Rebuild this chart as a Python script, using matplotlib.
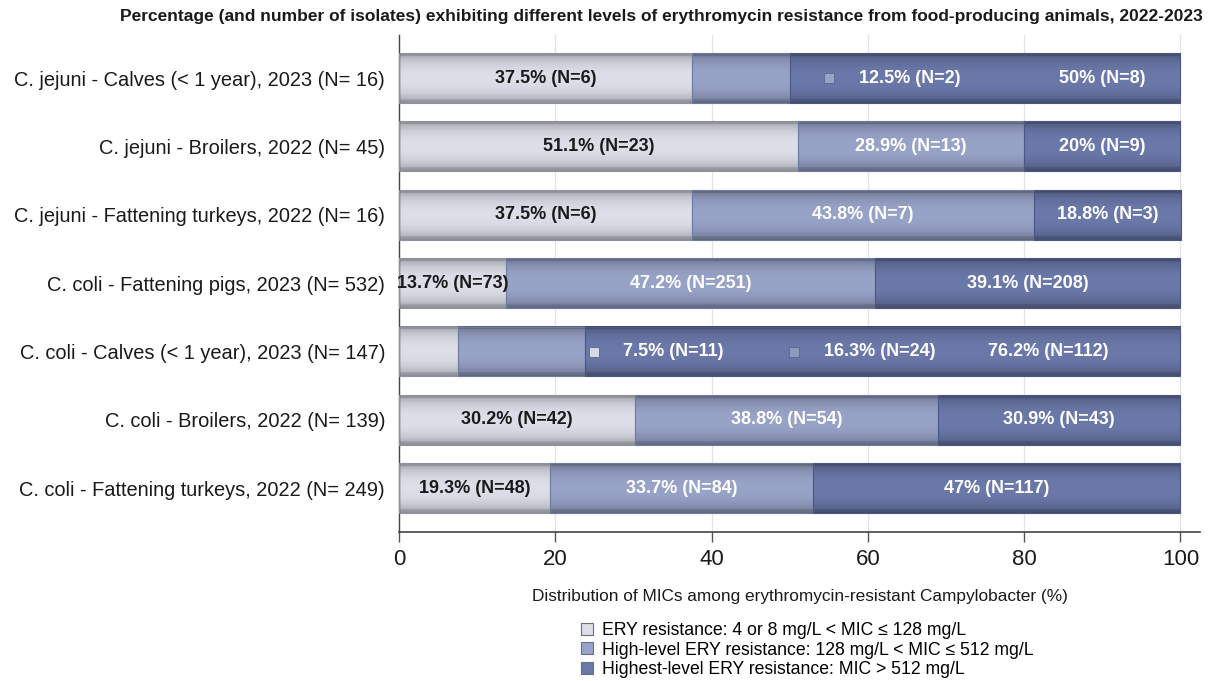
import numpy as np
import matplotlib
matplotlib.use("Agg")
import matplotlib.pyplot as plt
from matplotlib import font_manager
from matplotlib.lines import Line2D
from matplotlib.colors import to_rgb

# ---------------- data ----------------
categories = [
    "C. jejuni - Calves (< 1 year), 2023 (N= 16)",
    "C. jejuni - Broilers, 2022 (N= 45)",
    "C. jejuni - Fattening turkeys, 2022 (N= 16)",
    "C. coli - Fattening pigs, 2023 (N= 532)",
    "C. coli - Calves (< 1 year), 2023 (N= 147)",
    "C. coli - Broilers, 2022 (N= 139)",
    "C. coli - Fattening turkeys, 2022 (N= 249)",
]
ery_pct = [37.5, 51.1, 37.5, 13.7, 7.5, 30.2, 19.3]
high_pct = [12.5, 28.9, 43.8, 47.2, 16.3, 38.8, 33.7]
highest_pct = [50, 20, 18.8, 39.1, 76.2, 30.9, 47]
ery_n = [6, 23, 6, 73, 11, 42, 48]
high_n = [2, 13, 7, 251, 24, 54, 84]
highest_n = [8, 9, 3, 208, 112, 43, 117]
series_names = [
    "ERY resistance: 4 or 8 mg/L < MIC \u2264 128 mg/L",
    "High-level ERY resistance: 128 mg/L < MIC \u2264 512 mg/L",
    "Highest-level ERY resistance: MIC > 512 mg/L",
]
x_ticks = [0, 20, 40, 60, 80, 100]
title = ("Percentage (and number of isolates) exhibiting different levels of "
         "erythromycin resistance from food-producing animals, 2022-2023")
xlabel = "Distribution of MICs among erythromycin-resistant Campylobacter (%)"

# ---------------- style ----------------
colors = ["#dcdfe8", "#98a3c8", "#6b79aa"]
text_colors = ["#1a1a1a", "white", "white"]
edge_colors = ["#8f93a0", "#6f7aa0", "#4a5785"]

available = {f.name for f in font_manager.fontManager.ttflist}
base_font = "Liberation Sans" if "Liberation Sans" in available else "DejaVu Sans"
title_font = "Liberation Sans Narrow" if "Liberation Sans Narrow" in available else base_font
plt.rcParams["font.family"] = [base_font, "DejaVu Sans"]

fig = plt.figure(figsize=(12.08, 6.81), dpi=100)
ax = fig.add_axes([399 / 1208, 1 - 532 / 681, (1200 - 399) / 1208, (532 - 35) / 681])

y = np.arange(len(categories))
series = [ery_pct, high_pct, highest_pct]
counts = [ery_n, high_n, highest_n]

# gradient profile across bar height (darker near top/bottom edges)
t = np.linspace(0, 1, 64)
shade = 1 - 0.28 * np.abs(2 * t - 1) ** 2.5 - 0.10 * (t < 0.06) - 0.08 * (t > 0.93)

left = np.zeros(len(categories))
bar_h = 0.73
containers = []
for k, vals in enumerate(series):
    bars = ax.barh(y, vals, left=left, height=bar_h, facecolor="none",
                   edgecolor=edge_colors[k], linewidth=0.8, zorder=3)
    containers.append(bars)
    base = np.array(to_rgb(colors[k]))
    img = np.clip(shade[:, None, None] * base[None, None, :], 0, 1)
    for p in bars.patches:
        x0, y0, w, h = p.get_x(), p.get_y(), p.get_width(), p.get_height()
        ax.imshow(img, extent=(x0, x0 + w, y0 + h, y0), aspect="auto",
                  interpolation="bilinear", zorder=2)
    left = left + np.array(vals)

# label positions: default segment centres; a few labels were displaced in the original
label_override = {
    (0, 1): ("left", 58.8),
    (0, 2): ("center", 90.0),
    (4, 0): ("left", 28.7),
    (4, 1): ("left", 54.4),
    (4, 2): ("center", 83.1),
}
marker_colors = {(0, 1): "#98a3c8", (4, 0): "#d6d9e3", (4, 1): "#8f9ac0"}

for k, bars in enumerate(containers):
    for i, p in enumerate(bars.patches):
        txt = f"{series[k][i]:g}% (N={counts[k][i]})"
        if (i, k) in label_override:
            ha, xpos = label_override[(i, k)]
            tcol = "white"
        else:
            ha, xpos = "center", p.get_x() + p.get_width() / 2
            tcol = text_colors[k]
        ax.text(xpos, y[i], txt, ha=ha, va="center", fontsize=13,
                fontweight="bold", color=tcol, zorder=5)
        if (i, k) in marker_colors:
            ax.plot(xpos - 3.8, y[i], marker="s", markersize=7,
                    markerfacecolor=marker_colors[(i, k)],
                    markeredgecolor="#5a6690", markeredgewidth=0.6, zorder=5)

ax.set_ylim(len(categories) - 1 + 0.64, -0.63)
ax.set_xlim(0, 102.5)
ax.set_yticks(y)
ax.set_yticklabels(categories, fontsize=14.4, color="#1a1a1a")
ax.tick_params(axis="y", length=0, pad=10)
ax.set_xticks(x_ticks)
ax.set_xticklabels([str(v) for v in x_ticks], fontsize=16, color="#1a1a1a")
ax.tick_params(axis="x", direction="out", length=7, width=1, color="#555555", pad=5)
ax.grid(axis="x", color="#e4e4e4", linewidth=0.9, zorder=0)
ax.set_axisbelow(True)
for s in ["top", "right"]:
    ax.spines[s].set_visible(False)
ax.spines["left"].set_color("#444444")
ax.spines["bottom"].set_color("#444444")
ax.spines["left"].set_linewidth(1.0)
ax.spines["bottom"].set_linewidth(1.2)

ax.set_xlabel(xlabel, fontsize=12.4, color="#1a1a1a", labelpad=14)

fig.text(1203 / 1208, 1 - 17 / 681, title, ha="right", va="center",
         fontsize=12.5, fontweight="bold", family=[title_font, "DejaVu Sans"],
         color="#1a1a1a")

handles = [Line2D([], [], linestyle="none", marker="s", markersize=9,
                  markerfacecolor=c, markeredgecolor="#6a6f80", markeredgewidth=0.8)
           for c in colors]
fig.legend(handles, series_names, loc="upper left",
           bbox_to_anchor=(578 / 1208, 1 - 622 / 681), frameon=False,
           fontsize=12.7, handletextpad=0.35, labelspacing=0.15, handlelength=1.0,
           borderaxespad=0, borderpad=0)

fig.savefig("out.png", dpi=100)
